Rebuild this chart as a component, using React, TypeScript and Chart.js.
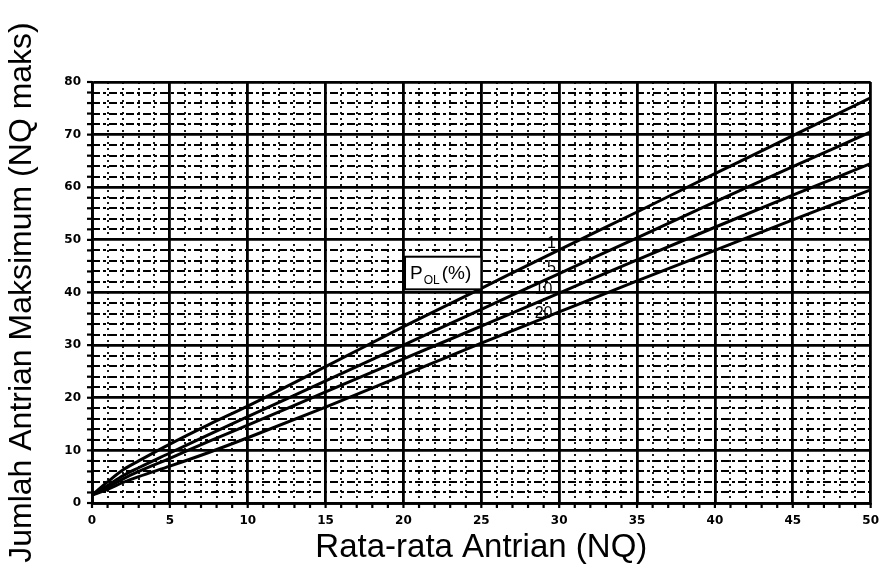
import React, { useEffect, useRef } from 'react';
import { Chart, registerables } from 'chart.js';

Chart.register(...registerables);

// ---- data ----
const nqValues = [0, 1, 2, 3, 5, 7.5, 10, 15, 20, 25, 30, 35, 40, 45, 50];
const pol1 = [1.5, 4.0, 6.3, 8.0, 11.2, 14.9, 18.4, 25.9, 33.5, 40.8, 48.1, 55.3, 62.6, 69.8, 77.0];
const pol5 = [1.5, 3.3, 5.2, 6.7, 9.5, 13.0, 16.4, 23.2, 30.0, 36.8, 43.6, 50.4, 57.2, 63.9, 70.5];
const pol10 = [1.5, 3.0, 4.6, 6.0, 8.5, 11.7, 14.8, 21.1, 27.4, 33.6, 39.9, 46.2, 52.4, 58.5, 64.5];
const pol20 = [1.5, 2.6, 3.9, 5.0, 7.0, 9.6, 12.4, 18.2, 24.3, 30.4, 36.3, 42.2, 48.0, 53.8, 59.5];
const seriesLabels = ['1', '5', '10', '20'];
const xTickValues = [0, 5, 10, 15, 20, 25, 30, 35, 40, 45, 50];
const yTickValues = [0, 10, 20, 30, 40, 50, 60, 70, 80];
const xTitle = 'Rata-rata Antrian (NQ)';
const yTitle = 'Jumlah Antrian Maksimum (NQ maks)';
const legendMain = 'P';
const legendSub = 'OL';
const legendTail = '(%)';

const paperPlugin = {
  id: 'paper',
  beforeDatasetsDraw(chart: any) {
    const { ctx, chartArea: a, scales } = chart;
    const xs = scales.x;
    const ys = scales.y;
    const seg = (x1: number, y1: number, x2: number, y2: number) => {
      ctx.beginPath();
      ctx.moveTo(x1, y1);
      ctx.lineTo(x2, y2);
      ctx.stroke();
    };
    ctx.save();
    ctx.strokeStyle = '#000';
    // minor horizontal rulings every 2 units
    ctx.lineWidth = 2;
    ctx.setLineDash([8, 3, 3, 3]);
    for (let v = 2; v < 80; v += 2) {
      if (v % 10 === 0) continue;
      const py = Math.round(ys.getPixelForValue(v));
      seg(a.left, py, a.right, py);
    }
    // minor vertical rulings every unit
    ctx.lineWidth = 1.8;
    ctx.setLineDash([2, 4]);
    for (let v = 1; v < 50; v++) {
      if (v % 5 === 0) continue;
      const px = Math.round(xs.getPixelForValue(v));
      seg(px, a.top, px, a.bottom);
    }
    // small outside tick marks
    ctx.setLineDash([]);
    ctx.lineWidth = 2.2;
    for (let v = 0; v <= 50; v++) {
      const px = xs.getPixelForValue(v);
      seg(px, a.bottom, px, a.bottom + 5);
    }
    for (let v = 0; v <= 80; v += 2) {
      const py = ys.getPixelForValue(v);
      seg(a.left - 5, py, a.left, py);
    }
    ctx.restore();
  },
  afterDatasetsDraw(chart: any) {
    const { ctx, scales } = chart;
    const xs = scales.x;
    const ys = scales.y;
    ctx.save();
    // legend box P_OL(%)
    const bx1 = xs.getPixelForValue(20.1);
    const by1 = ys.getPixelForValue(46.8);
    const bx2 = xs.getPixelForValue(25.0);
    const by2 = ys.getPixelForValue(40.6);
    ctx.fillStyle = '#fff';
    ctx.fillRect(bx1, by1, bx2 - bx1, by2 - by1);
    ctx.strokeStyle = '#000';
    ctx.lineWidth = 2;
    ctx.strokeRect(bx1, by1, bx2 - bx1, by2 - by1);
    ctx.fillStyle = '#000';
    ctx.textBaseline = 'alphabetic';
    ctx.textAlign = 'left';
    let tx = bx1 + 5;
    const base = by1 + 22;
    ctx.font = '19px "Liberation Sans", Arial, sans-serif';
    ctx.fillText(legendMain, tx, base);
    tx += ctx.measureText(legendMain).width + 1;
    ctx.font = '12px "Liberation Sans", Arial, sans-serif';
    ctx.fillText(legendSub, tx, base + 5);
    tx += ctx.measureText(legendSub).width + 2;
    ctx.font = '19px "Liberation Sans", Arial, sans-serif';
    ctx.fillText(legendTail, tx, base);

    // series labels
    const pos = [
      [29.5, 49.3],
      [29.5, 44.8],
      [29.0, 40.6],
      [29.0, 36.0],
    ];
    ctx.font = '16px "Liberation Sans", Arial, sans-serif';
    ctx.textAlign = 'center';
    ctx.textBaseline = 'middle';
    seriesLabels.forEach((lab, i) => {
      const px = xs.getPixelForValue(pos[i][0]);
      const py = ys.getPixelForValue(pos[i][1]);
      ctx.fillText(lab, px, py);
    });
    ctx.restore();
  },
};

export default function App() {
  const ref = useRef<HTMLCanvasElement | null>(null);

  useEffect(() => {
    if (!ref.current) return;
    const mk = (vals: number[], label: string) => ({
      label,
      data: nqValues.map((x, i) => ({ x, y: vals[i] })),
      borderColor: '#000',
      borderWidth: 3,
      pointRadius: 0,
      fill: false,
      cubicInterpolationMode: 'monotone' as const,
    });
    const tickFont = { family: '"DejaVu Sans", sans-serif', size: 12, weight: 'bold' as const };
    const chart = new Chart(ref.current, {
      type: 'line',
      data: {
        datasets: [
          mk(pol1, seriesLabels[0]),
          mk(pol5, seriesLabels[1]),
          mk(pol10, seriesLabels[2]),
          mk(pol20, seriesLabels[3]),
        ],
      },
      options: {
        responsive: false,
        animation: false,
        layout: { padding: { left: 0, right: 9, top: 82, bottom: 0 } },
        plugins: { legend: { display: false }, tooltip: { enabled: false } },
        scales: {
          x: {
            type: 'linear',
            min: 0,
            max: 50,
            afterBuildTicks: (s: any) => {
              s.ticks = xTickValues.map((v) => ({ value: v }));
            },
            afterFit: (s: any) => {
              s.height = 66;
            },
            ticks: { color: '#000', font: tickFont, padding: 11, maxRotation: 0, autoSkip: false },
            grid: { color: '#000', lineWidth: 2.8, drawTicks: false },
            border: { color: '#000', width: 2.8 },
            title: {
              display: true,
              text: xTitle,
              color: '#000',
              font: { family: '"Liberation Sans", Arial, sans-serif', size: 33 },
              padding: { top: 0, bottom: 1 },
            },
          },
          y: {
            type: 'linear',
            min: 0,
            max: 80,
            afterBuildTicks: (s: any) => {
              s.ticks = yTickValues.map((v) => ({ value: v }));
            },
            afterFit: (s: any) => {
              s.width = 92;
            },
            ticks: { color: '#000', font: tickFont, padding: 11, autoSkip: false },
            grid: { color: '#000', lineWidth: 2.8, drawTicks: false },
            border: { color: '#000', width: 2.8 },
            title: {
              display: true,
              text: yTitle,
              color: '#000',
              font: { family: '"Liberation Sans", Arial, sans-serif', size: 32 },
              padding: { top: 3, bottom: 0 },
            },
          },
        },
      },
      plugins: [paperPlugin],
    });
    return () => chart.destroy();
  }, []);

  return (
    <div style={{ position: 'absolute', left: 0, top: 0, width: 890, height: 569, background: '#fff' }}>
      <canvas ref={ref} width={890} height={569} style={{ display: 'block', width: 890, height: 569 }} />
    </div>
  );
}
